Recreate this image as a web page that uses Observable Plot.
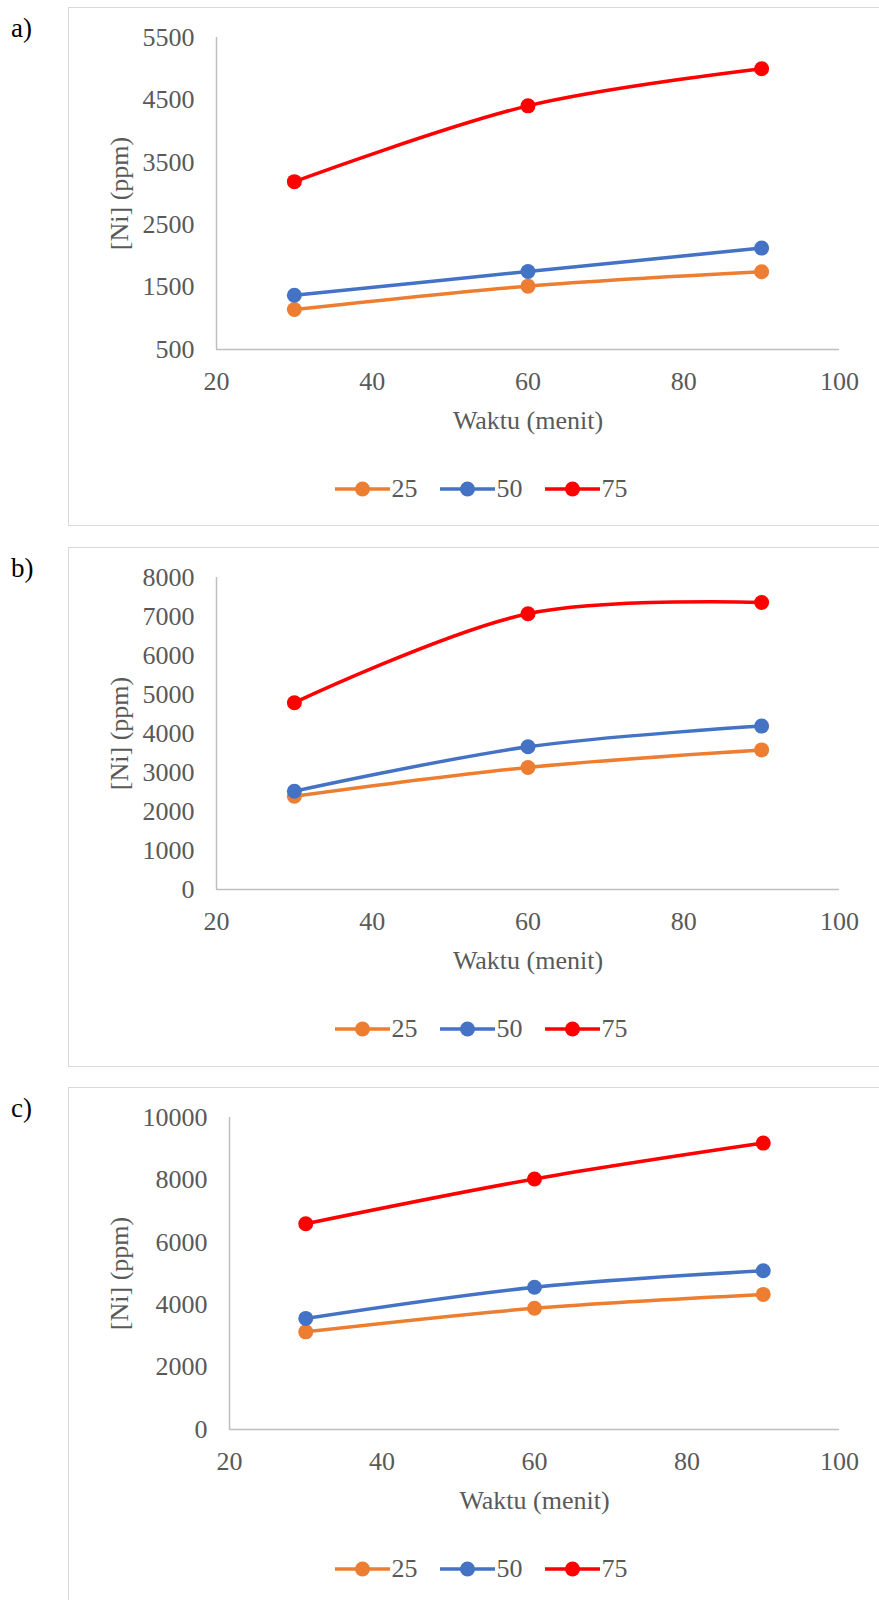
<!DOCTYPE html>
<html><head><meta charset="utf-8">
<script src="https://cdn.jsdelivr.net/npm/d3@7"></script>
<script src="https://cdn.jsdelivr.net/npm/@observablehq/plot@0.6"></script>
<style>
html,body{margin:0;padding:0;background:#fff;overflow:hidden;}
#page{position:relative;width:879px;height:1600px;overflow:hidden;font-family:"Liberation Serif","Times New Roman",serif;}
.panel{position:absolute;left:0;width:879px;}
.tag{position:absolute;left:11px;font-size:27px;line-height:27px;color:#000;}
.frame{position:absolute;left:68px;top:0;width:826px;border:1.5px solid #d9d9d9;box-sizing:border-box;}
.chart{position:absolute;left:68px;top:0;}
.legend{position:absolute;left:68px;width:826px;height:26px;display:flex;justify-content:center;align-items:center;color:#595959;font-size:26px;line-height:26px;}
.item{display:flex;align-items:center;margin:0 11px;}
.item svg{display:block;margin-right:2px;}
</style></head><body><div id="page"></div>
<script>
// ---- data ----
const waktu = [30, 60, 90];
const seriesLabels = ["25", "50", "75"];
const seriesColors = ["#ED7D31", "#4472C4", "#FF0000"];
const xTicks = [20, 40, 60, 80, 100];
const panelLabels = ["a)", "b)", "c)"];
const xTitle = "Waktu (menit)";
const yTitle = "[Ni] (ppm)";

const a25 = [1140, 1515, 1745];
const a50 = [1370, 1750, 2125];
const a75 = [3190, 4405, 5000];
const aTicks = [500, 1500, 2500, 3500, 4500, 5500];

const b25 = [2390, 3130, 3580];
const b50 = [2520, 3660, 4190];
const b75 = [4790, 7070, 7360];
const bTicks = [0, 1000, 2000, 3000, 4000, 5000, 6000, 7000, 8000];

const c25 = [3130, 3885, 4330];
const c50 = [3560, 4560, 5090];
const c75 = [6595, 8030, 9180];
const cTicks = [0, 2000, 4000, 6000, 8000, 10000];

// ---- build ----
const panels = [
  {label: panelLabels[0], series: [a25, a50, a75], ticks: aTicks, top: 7, frameH: 519, ml: 148},
  {label: panelLabels[1], series: [b25, b50, b75], ticks: bTicks, top: 546.5, frameH: 520, ml: 148},
  {label: panelLabels[2], series: [c25, c50, c75], ticks: cTicks, top: 1087, frameH: 600, ml: 161}
];

const page = document.getElementById("page");
const W = 826, H = 519, MT = 30, MB = 177, MR = 55;

for (const p of panels) {
  const rows = [];
  p.series.forEach((vals, si) => vals.forEach((v, i) => rows.push({waktu: waktu[i], seri: seriesLabels[si], ni: v})));
  const yDom = [p.ticks[0], p.ticks[p.ticks.length - 1]];

  const panel = document.createElement("div");
  panel.className = "panel";
  panel.style.top = p.top + "px";
  panel.style.height = p.frameH + "px";
  page.appendChild(panel);

  const tag = document.createElement("div");
  tag.className = "tag";
  tag.style.top = "8px";
  tag.textContent = p.label;
  panel.appendChild(tag);

  const frame = document.createElement("div");
  frame.className = "frame";
  frame.style.height = p.frameH + "px";
  panel.appendChild(frame);

  const chart = Plot.plot({
    width: W, height: H,
    marginLeft: p.ml, marginRight: MR, marginTop: MT, marginBottom: MB,
    style: {fontFamily: '"Liberation Serif","Times New Roman",serif', fontSize: "26px", color: "#595959", background: "transparent", overflow: "visible"},
    x: {domain: [20, 100], ticks: xTicks},
    y: {domain: yDom, ticks: p.ticks},
    color: {domain: seriesLabels, range: seriesColors},
    marks: [
      Plot.ruleY([yDom[0]], {stroke: "#bfbfbf", strokeWidth: 1.5}),
      Plot.ruleX([20], {stroke: "#bfbfbf", strokeWidth: 1.5}),
      Plot.axisX({ticks: xTicks, tickSize: 0, tickPadding: 22, label: null, tickFormat: d => String(d)}),
      Plot.axisY({ticks: p.ticks, tickSize: 0, tickPadding: 22, label: null, tickFormat: d => String(d)}),
      Plot.line(rows, {x: "waktu", y: "ni", stroke: "seri", z: "seri", curve: "catmull-rom", strokeWidth: 3.5}),
      Plot.dot(rows, {x: "waktu", y: "ni", fill: "seri", r: 7.5}),
      Plot.text([xTitle], {frameAnchor: "bottom", dy: 71, text: d => d, fill: "#595959", fontSize: 26, textAnchor: "middle", lineAnchor: "middle"}),
      Plot.text([yTitle], {frameAnchor: "left", dx: 51 - p.ml, rotate: -90, text: d => d, fill: "#595959", fontSize: 26, textAnchor: "middle", lineAnchor: "middle"})
    ]
  });
  chart.classList.add("chart");
  chart.style.position = "absolute";
  chart.style.left = "68px";
  chart.style.top = "0px";
  panel.appendChild(chart);

  const legend = document.createElement("div");
  legend.className = "legend";
  legend.style.top = "469px";
  seriesLabels.forEach((s, i) => {
    const item = document.createElement("div");
    item.className = "item";
    const sw = d3.create("svg").attr("width", 55).attr("height", 18);
    sw.append("line").attr("x1", 0).attr("x2", 55).attr("y1", 9).attr("y2", 9).attr("stroke", seriesColors[i]).attr("stroke-width", 3.5);
    sw.append("circle").attr("cx", 27.5).attr("cy", 9).attr("r", 7.5).attr("fill", seriesColors[i]);
    item.appendChild(sw.node());
    const t = document.createElement("span");
    t.textContent = s;
    item.appendChild(t);
    legend.appendChild(item);
  });
  panel.appendChild(legend);
}
</script></body></html>
